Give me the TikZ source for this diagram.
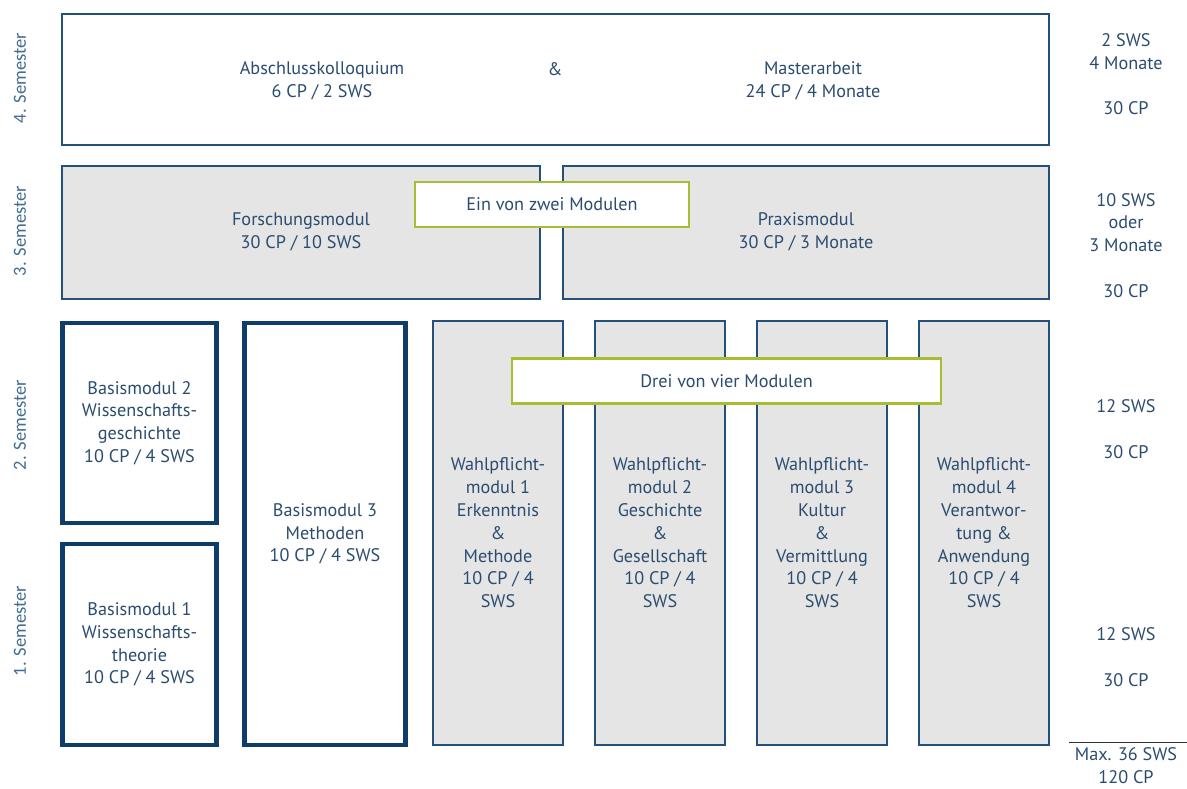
\documentclass[tikz,border=0pt]{standalone}
\usepackage{fontspec}
\setmainfont{PT Sans}
\newfontfamily\semfont{Carlito}
\usepackage{xcolor}
\usepackage{tikz}

\definecolor{rahmenblau}{HTML}{24507A}
\definecolor{basisblau}{HTML}{0E3D69}
\definecolor{textblau}{HTML}{2B4C6F}
\definecolor{semblau}{HTML}{436B93}
\definecolor{grau}{HTML}{E5E5E5}
\definecolor{gruen}{HTML}{A4BF33}

\begin{document}
\begin{tikzpicture}[x=1pt, y=-1pt,
	every node/.style={font=\fontsize{18.2}{22.8}\selectfont, text=textblau, align=center, inner sep=0pt},
	modul/.style={draw=rahmenblau, line width=2pt, fill=white},
	wahl/.style={modul, fill=grau},
	basis/.style={draw=basisblau, line width=4.5pt, fill=white},
	hinweis/.style={draw=gruen, line width=2.5pt, fill=white},
	semester/.style={rotate=90, text=semblau, font=\semfont\fontsize{18.5}{22}\selectfont}]

\useasboundingbox (0,0) rectangle (1187,788);

\node[modul, minimum width=987pt, minimum height=131pt] (abschluss) at (555.5,79.5) {};
\node (kolloquium) at (322,80.5) {Abschlusskolloquium\\6 CP / 2 SWS};
\node (und) at (555,69) {\&};
\node (masterarbeit) at (813,80.5) {Masterarbeit\\24 CP / 4 Monate};

\node[wahl, minimum width=478pt, minimum height=133pt] (forschung) at (301,232) {Forschungsmodul\\30 CP / 10 SWS};
\node[wahl, minimum width=486pt, minimum height=133pt] (praxis) at (806,232) {Praxismodul\\30 CP / 3 Monate};
\node[hinweis, minimum width=274pt, minimum height=45pt] (einvonzwei) at (552,204.5) {Ein von zwei Modulen};

\node[basis, minimum width=154pt, minimum height=200pt] (basis2) at (139.5,423) {Basismodul 2\\Wissenschafts-\\geschichte\\10 CP / 4 SWS};
\node[basis, minimum width=154pt, minimum height=201pt] (basis1) at (139.5,644.5) {Basismodul 1\\Wissenschafts-\\theorie\\10 CP / 4 SWS};
\node[basis, minimum width=161pt, minimum height=422pt] (basis3) at (325,534) {Basismodul 3\\Methoden\\10 CP / 4 SWS};

\foreach \i/\txt in {0/{Wahlpflicht-\\modul 1\\Erkenntnis\\\&\\Methode},
	1/{Wahlpflicht-\\modul 2\\Geschichte\\\&\\Gesellschaft},
	2/{Wahlpflicht-\\modul 3\\Kultur\\\&\\Vermittlung},
	3/{Wahlpflicht-\\modul 4\\Verantwor-\\tung \&\\Anwendung}}{
	\node[wahl, minimum width=130pt, minimum height=424pt] (wahl\i) at (498 + 162*\i,533) {\txt\\10 CP / 4\\SWS};
}

\node[hinweis, minimum width=429pt, minimum height=45pt] (dreivonvier) at (726.5,381) {Drei von vier Modulen};

\node[semester] (sem4) at (20,78) {4. Semester};
\node[semester] (sem3) at (20,231) {3. Semester};
\node[semester] (sem2) at (20,425) {2. Semester};
\node[semester] (sem1) at (20,631) {1. Semester};

\node (sws4) at (1126,51.5) {2 SWS\\4 Monate};
\node (cp4) at (1126,108.5) {30 CP};
\node (sws3) at (1126,222.5) {10 SWS\\oder\\3 Monate};
\node (cp3) at (1126,291.5) {30 CP};
\node (sws2) at (1126,406.5) {12 SWS};
\node (cp2) at (1126,452.5) {30 CP};
\node (sws1) at (1126,634.5) {12 SWS};
\node (cp1) at (1126,680.5) {30 CP};

\coordinate (strichA) at (1069,742);
\coordinate (strichB) at (1187,742);
\draw[line width=1pt, color=black!80] (strichA)--(strichB);
\node (gesamt) at (1126,766) {Max. 36 SWS\\120 CP};

\end{tikzpicture}
\end{document}
